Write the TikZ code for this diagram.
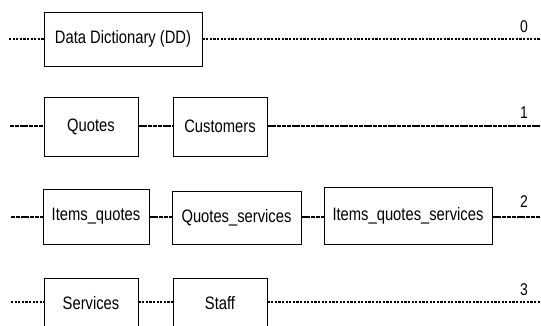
\documentclass[tikz,border=0pt]{standalone}
\usepackage{fontspec}
\setmainfont{Liberation Sans}
\newcommand{\narrowtxt}[1]{\scalebox{0.82}[1]{#1}}
\tikzset{
  table/.style={draw=black, line width=1pt, fill=white, inner sep=0pt,
    font=\fontsize{18}{20}\selectfont},
  lvl/.style={font=\fontsize{17}{19}\selectfont, inner sep=0pt},
  dotline/.style={line width=2pt, dash pattern=on 2.2pt off 1.4pt},
  dashline/.style={line width=2pt, dash pattern=on 4pt off 0.8pt}
}
\begin{document}
\begin{tikzpicture}[x=1pt,y=-1pt]
\useasboundingbox (0,0) rectangle (541,325);
\clip (0,0) rectangle (541,325);
% row 0
\node[table, minimum width=158pt, minimum height=54pt] (dd) at (123,39) {\narrowtxt{Data Dictionary (DD)}};
\coordinate (a0) at (9,39);
\coordinate (b0) at (541,39);
\draw[dotline] (a0) -- (dd.west);
\draw[dotline] (dd.east) -- (b0);
\node[lvl] (l0) at (524,27) {\narrowtxt{0}};
% row 1
\node[table, minimum width=94pt, minimum height=59pt] (q) at (91,126.5) {\narrowtxt{Quotes}};
\node[table, minimum width=94pt, minimum height=59pt] (c) at (220,126.5) {\narrowtxt{Customers}};
\coordinate (a1) at (10,126);
\coordinate (b1) at (541,126);
\draw[dashline] (a1) -- (q.west |- a1);
\draw[dashline] (q.east |- a1) -- (c.west |- a1);
\draw[dashline] (c.east |- a1) -- (b1);
\node[lvl] (l1) at (524,113) {\narrowtxt{1}};
% row 2
\node[table, minimum width=106pt, minimum height=55pt] (iq) at (96,216.5) {\narrowtxt{Items\_quotes}};
\node[table, minimum width=129pt, minimum height=53pt] (qs) at (236.5,217.5) {\narrowtxt{Quotes\_services}};
\node[table, minimum width=168pt, minimum height=57pt] (iqs) at (408,215.5) {\narrowtxt{Items\_quotes\_services}};
\coordinate (a2) at (11,217);
\coordinate (b2) at (541,217);
\draw[dashline] (a2) -- (iq.west |- a2);
\draw[dashline] (iq.east |- a2) -- (qs.west |- a2);
\draw[dashline] (qs.east |- a2) -- (iqs.west |- a2);
\draw[dashline] (iqs.east |- a2) -- (b2);
\node[lvl] (l2) at (524,202) {\narrowtxt{2}};
% row 3
\node[table, minimum width=94pt, minimum height=50pt] (sv) at (91,303) {\narrowtxt{Services}};
\node[table, minimum width=94pt, minimum height=50pt] (st) at (220,303) {\narrowtxt{Staff}};
\coordinate (a3) at (11,302);
\coordinate (b3) at (541,302);
\draw[dotline] (a3) -- (sv.west |- a3);
\draw[dotline] (sv.east |- a3) -- (st.west |- a3);
\draw[dotline] (st.east |- a3) -- (b3);
\node[lvl] (l3) at (524,290) {\narrowtxt{3}};
\end{tikzpicture}
\end{document}
